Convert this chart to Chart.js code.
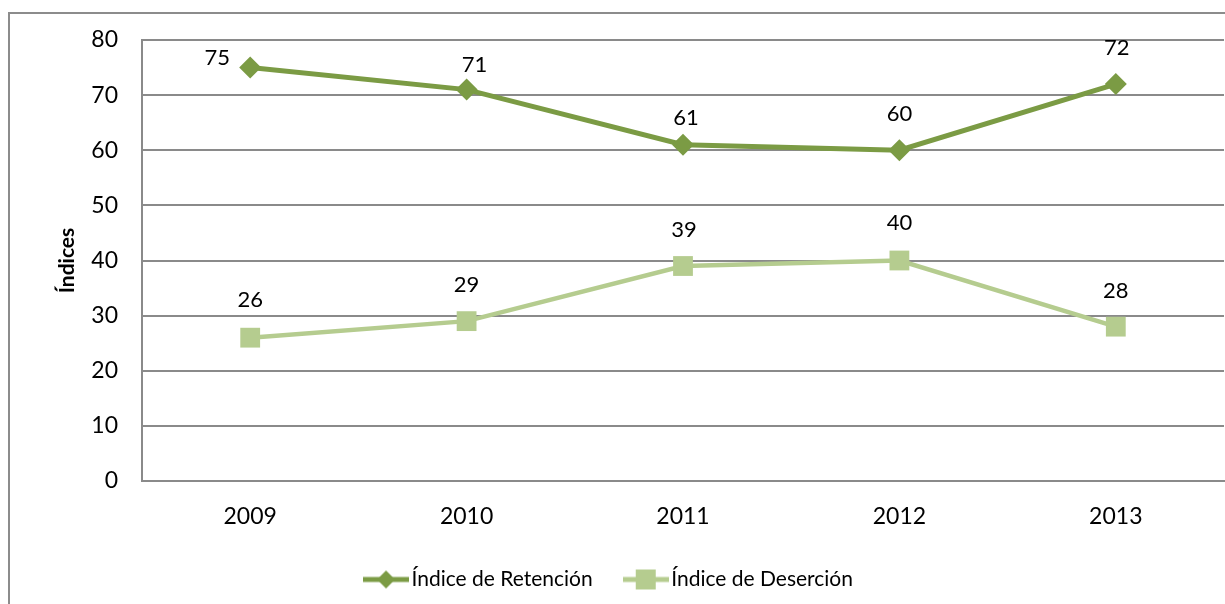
<!DOCTYPE html>
<html>
<head>
<meta charset="utf-8">
<script src="https://cdn.jsdelivr.net/npm/chart.js@4.4.1/dist/chart.umd.min.js"></script>
<style>
  html, body { margin: 0; padding: 0; background: #ffffff; }
  #wrap { position: relative; width: 1225px; height: 604px; }
</style>
</head>
<body>
<div id="wrap"><canvas id="c" width="1225" height="604"></canvas></div>
<script>
// ---- Data ----
const years = ['2009', '2010', '2011', '2012', '2013'];
const retencion = [75, 71, 61, 60, 72];
const desercion = [26, 29, 39, 40, 28];
const seriesNames = ['Índice de Retención', 'Índice de Deserción'];
const yTicks = [0, 10, 20, 30, 40, 50, 60, 70, 80];
const yTitle = 'Índices';

// ---- Styles ----
const FONT = 'Lato, "Open Sans", sans-serif';
const C_RET = '#7b9b44';
const C_DES = '#b5cc8f';
const GRID = '#8a8a8a';

// label offsets (style only): [dx, dy] relative to the point
const labelOffsets = [
  [[-33, -10], [8, -25], [3, -27], [0, -36], [1, -36]],
  [[0, -38], [0, -36], [1, -36], [0, -38], [0, -36]]
];

function legendIcon(color, style) {
  const cv = document.createElement('canvas');
  cv.width = 46; cv.height = 22;
  const g = cv.getContext('2d');
  g.strokeStyle = color; g.lineWidth = 5;
  g.beginPath(); g.moveTo(0, 11); g.lineTo(46, 11); g.stroke();
  g.fillStyle = color;
  if (style === 'diamond') {
    g.beginPath(); g.moveTo(23, 2); g.lineTo(32, 11); g.lineTo(23, 20); g.lineTo(14, 11); g.closePath(); g.fill();
  } else {
    g.fillRect(13, 1, 20, 20);
  }
  return cv;
}
const icons = [legendIcon(C_RET, 'diamond'), legendIcon(C_DES, 'square')];

const framePlugin = {
  id: 'frame',
  beforeDraw(chart) {
    const ctx = chart.ctx;
    ctx.save();
    ctx.strokeStyle = '#8c8c8c';
    ctx.lineWidth = 2;
    ctx.beginPath();
    ctx.moveTo(9, 610); ctx.lineTo(9, 13); ctx.lineTo(1230, 13);
    ctx.stroke();
    ctx.restore();
  }
};

const labelPlugin = {
  id: 'pointLabels',
  afterDatasetsDraw(chart) {
    const ctx = chart.ctx;
    ctx.save();
    ctx.font = '22px ' + FONT;
    ctx.fillStyle = '#000000';
    ctx.textAlign = 'center';
    ctx.textBaseline = 'middle';
    chart.data.datasets.forEach((ds, di) => {
      const meta = chart.getDatasetMeta(di);
      meta.data.forEach((pt, i) => {
        const off = labelOffsets[di][i];
        ctx.fillText(String(ds.data[i]), pt.x + off[0], pt.y + off[1]);
      });
    });
    ctx.restore();
  }
};

new Chart(document.getElementById('c'), {
  type: 'line',
  data: {
    labels: years,
    datasets: [
      {
        label: seriesNames[0],
        data: retencion,
        borderColor: C_RET,
        backgroundColor: C_RET,
        borderWidth: 5,
        pointStyle: 'rectRot',
        pointRadius: 11,
        pointHoverRadius: 11,
        pointBorderWidth: 0,
        tension: 0
      },
      {
        label: seriesNames[1],
        data: desercion,
        borderColor: C_DES,
        backgroundColor: C_DES,
        borderWidth: 4.5,
        pointStyle: 'rect',
        pointRadius: 14,
        pointHoverRadius: 14,
        pointBorderWidth: 0,
        tension: 0
      }
    ]
  },
  options: {
    responsive: false,
    animation: false,
    devicePixelRatio: 1,
    layout: { autoPadding: false, padding: { left: 0, top: 40, right: 1, bottom: 4 } },
    plugins: {
      legend: {
        position: 'bottom',
        labels: {
          font: { family: FONT, size: 21 },
          color: '#000000',
          usePointStyle: true,
          pointStyleWidth: 30,
          padding: 38,
          generateLabels(chart) {
            return chart.data.datasets.map((ds, i) => ({
              text: ds.label,
              fillStyle: ds.backgroundColor,
              strokeStyle: ds.borderColor,
              lineWidth: 0,
              pointStyle: icons[i],
              hidden: false,
              datasetIndex: i
            }));
          }
        }
      },
      tooltip: { enabled: false }
    },
    scales: {
      x: {
        offset: true,
        grid: { display: false, drawTicks: false },
        border: { display: true, color: GRID, width: 2 },
        ticks: { font: { family: FONT, size: 23 }, color: '#000000', padding: 22 },
        afterFit(scale) {
          const lg = scale.chart.legend;
          const lh = lg ? lg.height : 0;
          scale.height = scale.chart.height - 4 - lh - 481;
          scale.paddingLeft = 0;
          scale.paddingRight = 0;
        }
      },
      y: {
        min: 0, max: 80,
        afterBuildTicks(scale) { scale.ticks = yTicks.map(v => ({ value: v })); },
        grid: { color: GRID, lineWidth: 2, drawTicks: false },
        border: { display: true, color: GRID, width: 2 },
        ticks: { font: { family: FONT, size: 23 }, color: '#000000', padding: 24 },
        title: {
          display: true,
          text: yTitle,
          font: { family: FONT, size: 21, weight: 'bold' },
          color: '#000000',
          padding: { top: 55, bottom: 0 }
        },
        afterFit(scale) { scale.width = 142; }
      }
    }
  },
  plugins: [framePlugin, labelPlugin]
});
</script>
</body>
</html>
